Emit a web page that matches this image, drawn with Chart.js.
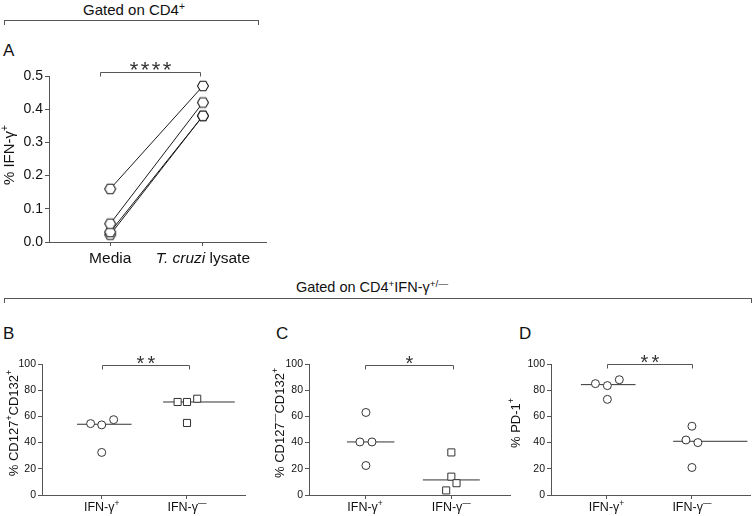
<!DOCTYPE html>
<html>
<head>
<meta charset="utf-8">
<script src="https://cdn.jsdelivr.net/npm/chart.js@4.4.1/dist/chart.umd.min.js"></script>
<style>
    body { margin: 0; background: #fff; }
    #fig { position: relative; width: 752px; height: 516px; overflow: hidden; font-family: "Liberation Sans", Arial, sans-serif; color: #111; }
    #fig canvas { position: absolute; }
    .hdr { position: absolute; line-height: 1; white-space: nowrap; text-align: center; }
    .brk { position: absolute; border: 1px solid #555; border-bottom: none; height: 5px; box-sizing: border-box; }
    .lbl { position: absolute; font-size: 17px; line-height: 1; }
    sup { font-size: 68%; vertical-align: 0; position: relative; top: -0.5em; line-height: 0; }
</style>
</head>
<body>
<div id="fig">
    <div class="hdr" style="left:0;width:268px;top:2px;font-size:15px">Gated on CD4<sup>+</sup></div>
    <div class="brk" style="left:4px;top:20px;width:255px"></div>
    <div class="lbl" style="left:3px;top:42px">A</div>

    <div class="hdr" style="left:0;width:744px;top:280px;font-size:14.5px">Gated on CD4<sup>+</sup>IFN-γ<sup>+/—</sup></div>
    <div class="brk" style="left:4px;top:298px;width:748px"></div>
    <div class="lbl" style="left:3px;top:325px">B</div>
    <div class="lbl" style="left:276px;top:325px">C</div>
    <div class="lbl" style="left:519px;top:325px">D</div>

    <canvas id="chartA" width="300" height="250" style="left:0;top:40px"></canvas>
    <canvas id="chartB" width="250" height="176" style="left:0;top:340px"></canvas>
    <canvas id="chartC" width="260" height="176" style="left:255px;top:340px"></canvas>
    <canvas id="chartD" width="247" height="176" style="left:505px;top:340px"></canvas>
</div>
<script>
// Panel A: % IFN-γ+ per donor, media vs T. cruzi lysate
const donorMedia = [0.16, 0.055, 0.03, 0.022];
const donorLysate = [0.47, 0.42, 0.38, 0.38];
const yTicksA = [0, 0.1, 0.2, 0.3, 0.4, 0.5];

// Panels B-D: IFN-γ+ vs IFN-γ- groups
const cd127PosIfnPos = [54.5, 53.5, 57.5, 32.5];
const cd127PosIfnNeg = [71, 71, 73.5, 55];
const cd127NegIfnPos = [63, 40.5, 40.5, 22.5];
const cd127NegIfnNeg = [32.5, 14, 9, 3.5];
const pd1IfnPos = [85, 83.5, 88, 73];
const pd1IfnNeg = [52.5, 42, 40, 21];
const yTicksPct = [0, 20, 40, 60, 80, 100];

// horizontal scatter of the dots around each group (x units)
const jitterB = [[-0.13, 0, 0.14, 0], [-0.11, 0, 0.12, 0]];
const jitterC = [[0.01, -0.06, 0.08, 0.01], [0, 0, 0.06, -0.06]];
const jitterD = [[-0.13, 0.01, 0.15, 0.01], [0, -0.07, 0.07, 0]];

const FONT = '"Liberation Sans", Arial, sans-serif';
const AXIS = '#555';
const INK = '#111';
const MARK = '#333';

const median = arr => {
    const s = [...arr].sort((a, b) => a - b);
    const m = Math.floor(s.length / 2);
    return s.length % 2 ? s[m] : (s[m - 1] + s[m]) / 2;
};

function hexagon(r) {
    const s = 14;
    const c = document.createElement('canvas');
    c.width = c.height = s;
    const g = c.getContext('2d');
    g.beginPath();
    for (let i = 0; i < 6; i++) {
        const a = Math.PI / 3 * i;
        g.lineTo(s / 2 + r * Math.cos(a), s / 2 + r * Math.sin(a));
    }
    g.closePath();
    g.fillStyle = '#fff';
    g.fill();
    g.strokeStyle = '#1a1a1a';
    g.lineWidth = 1.1;
    g.stroke();
    return c;
}

// text with superscript / italic pieces
function drawRich(ctx, parts, x, y, size, rotate) {
    const fontOf = k => k === 'sup' ? `${size * 0.68}px ${FONT}` :
                        k === 'it' ? `italic ${size}px ${FONT}` : `${size}px ${FONT}`;
    ctx.save();
    ctx.translate(x, y);
    if (rotate) ctx.rotate(-Math.PI / 2);
    let w = 0;
    parts.forEach(([t, k]) => { ctx.font = fontOf(k); w += ctx.measureText(t).width; });
    let cx = -w / 2;
    const base = rotate ? size * 0.36 : 0;
    ctx.fillStyle = INK;
    ctx.textAlign = 'left';
    ctx.textBaseline = 'alphabetic';
    parts.forEach(([t, k]) => {
        ctx.font = fontOf(k);
        ctx.fillText(t, cx, base - (k === 'sup' ? size * 0.42 : 0));
        cx += ctx.measureText(t).width;
    });
    ctx.restore();
}

function decor(cfg) {
    return {
        id: 'decor',
        afterDraw(chart) {
            const { ctx } = chart;
            const xs = chart.scales.x, ys = chart.scales.y;
            drawRich(ctx, cfg.yTitle, cfg.yTitleX, cfg.yTitleY, cfg.yTitleSize, true);
            cfg.xLabels.forEach((parts, i) => {
                drawRich(ctx, parts, xs.getPixelForValue(i + 1), cfg.xLabelY, cfg.xLabelSize, false);
            });
            const b = cfg.bracket;
            const x1 = Math.round(xs.getPixelForValue(b.from)) + 0.5;
            const x2 = Math.round(xs.getPixelForValue(b.to)) + 0.5;
            const yy = Math.round(ys.getPixelForValue(b.at)) + 0.5;
            ctx.save();
            ctx.strokeStyle = AXIS;
            ctx.lineWidth = 1;
            ctx.beginPath();
            ctx.moveTo(x1, yy + 4);
            ctx.lineTo(x1, yy);
            ctx.lineTo(x2, yy);
            ctx.lineTo(x2, yy + 4);
            ctx.stroke();
            ctx.fillStyle = '#333';
            ctx.font = `${b.size}px ${FONT}`;
            ctx.textAlign = 'center';
            const mid = (x1 + x2) / 2;
            for (let i = 0; i < b.stars; i++) {
                ctx.fillText('*', mid + (i - (b.stars - 1) / 2) * b.pitch, yy + b.drop);
            }
            ctx.restore();
        }
    };
}

function yScale(min, max, ticks, width, size, fmt) {
    return {
        type: 'linear', min, max,
        afterBuildTicks: s => { s.ticks = ticks.map(v => ({ value: v })); },
        ticks: { font: { family: FONT, size }, color: INK, padding: 2, callback: fmt },
        grid: { drawOnChartArea: false, drawTicks: true, tickLength: 4, color: AXIS },
        border: { display: true, color: AXIS, width: 1 },
        afterFit: s => { s.width = width; }
    };
}

function xScale(min, max, height) {
    return {
        type: 'linear', min, max,
        afterBuildTicks: s => { s.ticks = [{ value: 1 }, { value: 2 }]; },
        ticks: { callback: () => '', font: { size: 1 } },
        grid: { drawOnChartArea: false, drawTicks: true, tickLength: 4, color: AXIS },
        border: { display: true, color: AXIS, width: 1 },
        afterFit: s => { s.height = height; }
    };
}

function baseOptions(padding, x, y) {
    return {
        responsive: false,
        animation: false,
        devicePixelRatio: 1,
        events: [],
        layout: { padding, autoPadding: false },
        plugins: { legend: { display: false }, tooltip: { enabled: false } },
        scales: { x, y }
    };
}

// ---- Panel A
const hex = hexagon(5.5);
new Chart(document.getElementById('chartA'), {
    type: 'scatter',
    data: {
        datasets: donorMedia.map((m, i) => ({
            data: [{ x: 1, y: m }, { x: 2, y: donorLysate[i] }],
            showLine: true,
            borderColor: '#1a1a1a',
            borderWidth: 1,
            pointStyle: hex,
            pointRadius: 6,
            clip: false
        }))
    },
    options: baseOptions({ top: 36, right: 34, left: 0, bottom: 0 },
        xScale(0.34, 2.68, 48),
        yScale(0, 0.5, yTicksA, 49, 14, v => v.toFixed(1))),
    plugins: [decor({
        yTitle: [['% IFN-γ', ''], ['+', 'sup']], yTitleX: 9, yTitleY: 115, yTitleSize: 15,
        xLabels: [[['Media', '']], [['T. cruzi', 'it'], [' lysate', '']]], xLabelY: 223, xLabelSize: 15.5,
        bracket: { from: 0.89, to: 1.97, at: 0.512, stars: 4, pitch: 11, size: 22, drop: 4 }
    })]
});

// ---- Panels B-D
const groupLabels = [[['IFN-γ', ''], ['+', 'sup']], [['IFN-γ', ''], ['—', 'sup']]];

function groupSets(pos, neg, jitter, medSpan) {
    const pts = (vals, j, c, style, r) => ({
        data: vals.map((v, i) => ({ x: c + j[i], y: v })),
        pointStyle: style, pointRadius: r, backgroundColor: '#fff',
        borderColor: MARK, borderWidth: 1, showLine: false, clip: false
    });
    const med = (vals, c, span) => ({
        data: [{ x: c + span[0], y: median(vals) }, { x: c + span[1], y: median(vals) }],
        showLine: true, pointRadius: 0, borderColor: MARK, borderWidth: 1, clip: false
    });
    return [
        pts(pos, jitter[0], 1, 'circle', 4),
        pts(neg, jitter[1], 2, medSpan.negStyle, medSpan.negStyle === 'rect' ? 5 : 4),
        med(pos, 1, medSpan.pos),
        med(neg, 2, medSpan.neg)
    ];
}

function groupChart(id, pos, neg, jitter, medSpan, xMin, yWidth, padRight, titleParts, titleX, stars, bracketAt, bracketTo) {
    new Chart(document.getElementById(id), {
        type: 'scatter',
        data: { datasets: groupSets(pos, neg, jitter, medSpan) },
        options: baseOptions({ top: 24, right: padRight, left: 0, bottom: 0 },
            xScale(xMin, 2.68, 21),
            yScale(0, 100, yTicksPct, yWidth, 10.5, v => v)),
        plugins: [decor({
            yTitle: titleParts, yTitleX: titleX, yTitleY: 83, yTitleSize: 13,
            xLabels: groupLabels, xLabelY: 171, xLabelSize: 12.5,
            bracket: { from: 1, to: bracketTo, at: bracketAt, stars, pitch: 11, size: 20, drop: 4 }
        })]
    });
}

groupChart('chartB', cd127PosIfnPos, cd127PosIfnNeg, jitterB,
    { pos: [-0.29, 0.35], neg: [-0.28, 0.56], negStyle: 'rect' }, 0.3, 42, 5,
    [['% CD127', ''], ['+', 'sup'], ['CD132', ''], ['+', 'sup']], 13, 2, 99, 2.02);

groupChart('chartC', cd127NegIfnPos, cd127NegIfnNeg, jitterC,
    { pos: [-0.21, 0.34], neg: [-0.33, 0.33], negStyle: 'rect' }, 0.35, 54, 5,
    [['% CD127', ''], ['—', 'sup'], ['CD132', ''], ['+', 'sup']], 24, 1, 99, 2.02);

groupChart('chartD', pd1IfnPos, pd1IfnNeg, jitterD,
    { pos: [-0.3, 0.34], neg: [-0.22, 0.65], negStyle: 'circle' }, 0.35, 46, 2,
    [['% PD-1', ''], ['+', 'sup']], 10, 2, 100, 2.0);
</script>
</body>
</html>
